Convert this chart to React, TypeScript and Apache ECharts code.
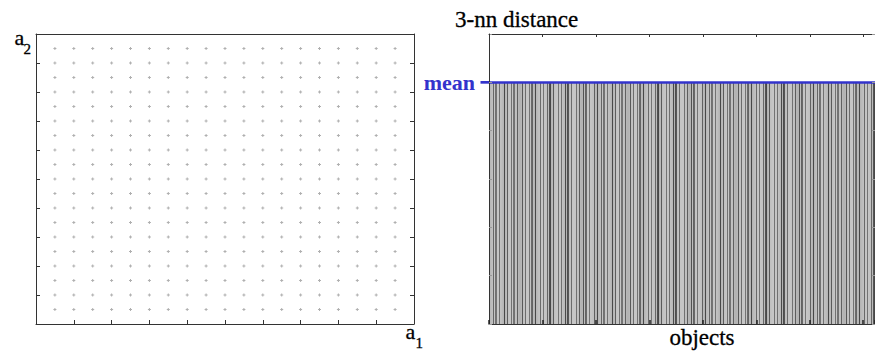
import React, { useEffect, useRef } from "react";
import * as echarts from "echarts";

// grid coordinates of the objects (left plot)
const a1Values = [1, 2, 3, 4, 5, 6, 7, 8, 9, 10, 11, 12, 13, 14, 15, 16, 17, 18, 19];
const a2Values = [1, 2, 3, 4, 5, 6, 7, 8, 9, 10, 11, 12, 13, 14, 15, 16, 17, 18, 19];

// 3-nn distance of every object (right plot), read as 1.0 for all 361 objects
const nnDistance3 = [
  1, 1, 1, 1, 1, 1, 1, 1, 1, 1, 1, 1, 1, 1, 1, 1, 1, 1, 1,
  1, 1, 1, 1, 1, 1, 1, 1, 1, 1, 1, 1, 1, 1, 1, 1, 1, 1, 1,
  1, 1, 1, 1, 1, 1, 1, 1, 1, 1, 1, 1, 1, 1, 1, 1, 1, 1, 1,
  1, 1, 1, 1, 1, 1, 1, 1, 1, 1, 1, 1, 1, 1, 1, 1, 1, 1, 1,
  1, 1, 1, 1, 1, 1, 1, 1, 1, 1, 1, 1, 1, 1, 1, 1, 1, 1, 1,
  1, 1, 1, 1, 1, 1, 1, 1, 1, 1, 1, 1, 1, 1, 1, 1, 1, 1, 1,
  1, 1, 1, 1, 1, 1, 1, 1, 1, 1, 1, 1, 1, 1, 1, 1, 1, 1, 1,
  1, 1, 1, 1, 1, 1, 1, 1, 1, 1, 1, 1, 1, 1, 1, 1, 1, 1, 1,
  1, 1, 1, 1, 1, 1, 1, 1, 1, 1, 1, 1, 1, 1, 1, 1, 1, 1, 1,
  1, 1, 1, 1, 1, 1, 1, 1, 1, 1, 1, 1, 1, 1, 1, 1, 1, 1, 1,
  1, 1, 1, 1, 1, 1, 1, 1, 1, 1, 1, 1, 1, 1, 1, 1, 1, 1, 1,
  1, 1, 1, 1, 1, 1, 1, 1, 1, 1, 1, 1, 1, 1, 1, 1, 1, 1, 1,
  1, 1, 1, 1, 1, 1, 1, 1, 1, 1, 1, 1, 1, 1, 1, 1, 1, 1, 1,
  1, 1, 1, 1, 1, 1, 1, 1, 1, 1, 1, 1, 1, 1, 1, 1, 1, 1, 1,
  1, 1, 1, 1, 1, 1, 1, 1, 1, 1, 1, 1, 1, 1, 1, 1, 1, 1, 1,
  1, 1, 1, 1, 1, 1, 1, 1, 1, 1, 1, 1, 1, 1, 1, 1, 1, 1, 1,
  1, 1, 1, 1, 1, 1, 1, 1, 1, 1, 1, 1, 1, 1, 1, 1, 1, 1, 1,
  1, 1, 1, 1, 1, 1, 1, 1, 1, 1, 1, 1, 1, 1, 1, 1, 1, 1, 1,
  1, 1, 1, 1, 1, 1, 1, 1, 1, 1, 1, 1, 1, 1, 1, 1, 1, 1, 1,
];

const objectIds = nnDistance3.map((_, i) => String(i + 1));

const SERIF = "'Liberation Serif', 'Times New Roman', Times, serif";
const AXIS_COLOR = "#333";
const MEAN_COLOR = "#3333cc";
const BAR_FILL = "#b3b3b3";

const L = { left: 36, top: 34, width: 378, height: 290 };
const R = { left: 489, top: 34, width: 386, height: 290 };

function boxAxis(extra: any) {
  return {
    axisLine: { show: true, onZero: false, lineStyle: { color: AXIS_COLOR, width: 1 } },
    axisTick: { show: true, inside: true, length: 4, lineStyle: { color: AXIS_COLOR, width: 1 } },
    axisLabel: { show: false },
    splitLine: { show: false },
    ...extra,
  };
}

function txt(text: string, x: number, y: number, size: number, align: string, vAlign: string) {
  return {
    type: "text",
    x,
    y,
    z: 20,
    style: {
      text,
      fontFamily: SERIF,
      fontSize: size,
      fill: "#000",
      stroke: "#000",
      lineWidth: 0.3,
      align,
      verticalAlign: vAlign,
    },
  };
}

export default function App() {
  const ref = useRef<HTMLDivElement>(null);

  useEffect(() => {
    if (!ref.current) return;
    const chart = echarts.init(ref.current, undefined, { renderer: "svg" });

    const points: number[][] = [];
    a2Values.forEach((y) => a1Values.forEach((x) => points.push([x, y])));

    const mean = nnDistance3.reduce((s, v) => s + v, 0) / nnDistance3.length;

    const valueAxisL = { type: "value", min: 0, max: 20, interval: 2 };
    const valueAxisR = { type: "value", min: 0, max: 1.2, interval: 0.2 };
    const catAxisR = {
      type: "category",
      data: objectIds,
      boundaryGap: true,
    };

    chart.setOption({
      animation: false,
      backgroundColor: "#fff",
      grid: [
        { ...L, containLabel: false },
        { ...R, containLabel: false },
      ],
      xAxis: [
        boxAxis({ ...valueAxisL, gridIndex: 0, position: "bottom" }),
        boxAxis({ ...valueAxisL, gridIndex: 0, position: "top", axisTick: { show: false } }),
        boxAxis({
          ...catAxisR,
          gridIndex: 1,
          position: "bottom",
          z: 5,
          axisTick: { show: true, inside: true, length: 4, interval: 49, lineStyle: { color: "#222", width: 1.5 } },
        }),
        boxAxis({
          ...catAxisR,
          gridIndex: 1,
          position: "top",
          z: 5,
          axisTick: { show: true, inside: true, length: 3, interval: 49, lineStyle: { color: AXIS_COLOR, width: 1 } },
        }),
      ],
      yAxis: [
        boxAxis({ ...valueAxisL, gridIndex: 0, position: "left" }),
        boxAxis({ ...valueAxisL, gridIndex: 0, position: "right" }),
        boxAxis({ ...valueAxisR, gridIndex: 1, position: "left", z: 5, axisTick: { show: true, inside: true, length: 3, lineStyle: { color: "#999", width: 1 } } }),
        boxAxis({ ...valueAxisR, gridIndex: 1, position: "right", z: 5, axisTick: { show: true, inside: true, length: 3, lineStyle: { color: "#999", width: 1 } } }),
      ],
      series: [
        {
          type: "scatter",
          xAxisIndex: 0,
          yAxisIndex: 0,
          data: points,
          symbol: "path://M1,0h1v1h1v1h-1v1h-1v-1h-1v-1h1z",
          symbolSize: 3,
          itemStyle: { color: "#9c9c9c" },
          silent: true,
        },
        {
          type: "bar",
          xAxisIndex: 2,
          yAxisIndex: 2,
          data: nnDistance3,
          barWidth: "100%",
          barCategoryGap: "0%",
          itemStyle: {
            color: BAR_FILL,
            borderWidth: 0,
            decal: {
              symbol: "rect",
              symbolSize: 1,
              color: "rgba(45,45,45,0.8)",
              dashArrayX: [1, 2, 1, 3, 1, 1, 2, 2, 1, 4],
              dashArrayY: [4, 0],
              rotation: 0,
            },
          },
          silent: true,
          markLine: {
            silent: true,
            symbol: "none",
            animation: false,
            data: [{ yAxis: mean }],
            lineStyle: { color: MEAN_COLOR, width: 2.7, type: "solid" },
            label: {
              show: true,
              position: "start",
              formatter: "mean",
              color: MEAN_COLOR,
              fontFamily: SERIF,
              fontWeight: "bold",
              fontSize: 22,
              distance: 14,
            },
          },
        },
      ],
    });

    const meanY = chart.convertToPixel({ yAxisIndex: 2 }, mean) as number;

    chart.setOption({
      graphic: [
        {
          type: "line",
          shape: { x1: R.left - 8.5, y1: meanY, x2: R.left, y2: meanY },
          style: { stroke: MEAN_COLOR, lineWidth: 2.7 },
          z: 10,
        },
        txt("a", 14.5, 48.5, 22, "left", "bottom"),
        txt("2", 23.5, 56, 15, "left", "bottom"),
        txt("a", 405.5, 342, 22, "left", "bottom"),
        txt("1", 415.5, 350, 15, "left", "bottom"),
        txt("3-nn distance", 455, 19, 23, "left", "middle"),
        txt("objects", 702, 337, 23, "center", "middle"),
      ],
    });

    return () => chart.dispose();
  }, []);

  return (
    <div
      ref={ref}
      style={{ position: "fixed", left: 0, top: 0, width: 875, height: 351, background: "#fff" }}
    />
  );
}
